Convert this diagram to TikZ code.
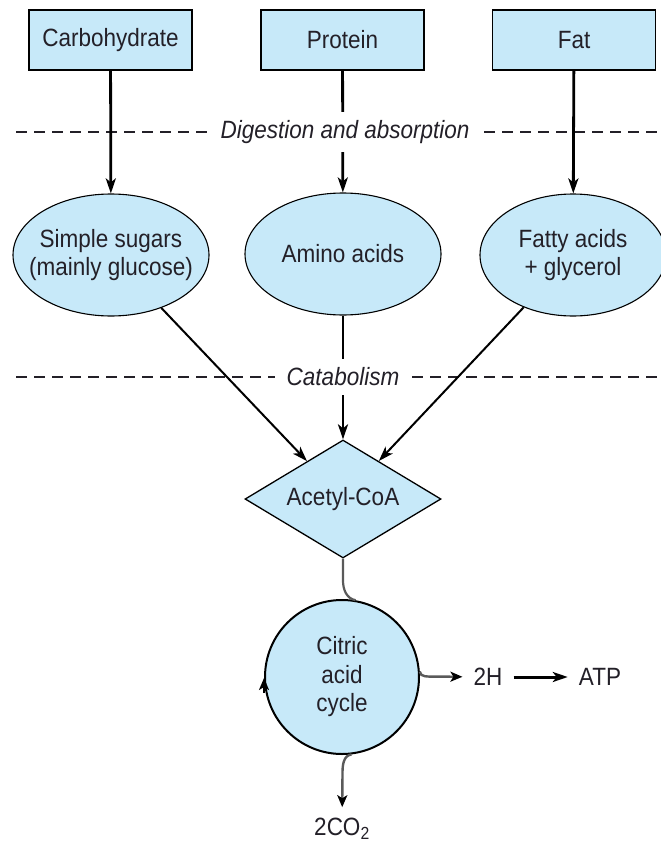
\documentclass[tikz,border=0pt]{standalone}
\usepackage{fontspec}
\setmainfont{Liberation Sans}[FakeStretch=0.9]
\usetikzlibrary{shapes.geometric,arrows.meta}

\definecolor{paleblue}{RGB}{199,233,249}
\definecolor{ink}{RGB}{35,32,40}
\definecolor{pipe}{RGB}{90,90,90}
\newcommand\figfont{\fontsize{25}{27.5}\selectfont}

\tikzset{
  food/.style={draw, line width=1.8pt, fill=paleblue, minimum width=163pt, minimum height=60pt, inner sep=0pt, text=ink, font=\figfont},
  pool/.style={ellipse, draw, line width=1.1pt, fill=paleblue, minimum width=196pt, minimum height=122pt, inner xsep=-25pt, inner ysep=0pt, align=center, text=ink, font=\figfont},
  hub/.style={diamond, draw, line width=1.3pt, fill=paleblue, minimum width=196pt, minimum height=118pt, aspect=1.66, inner sep=0pt, text=ink, font=\figfont},
  krebs/.style={circle, draw, line width=2pt, fill=paleblue, minimum size=154pt, inner sep=0pt, align=center, text=ink, font=\fontsize{25}{28.5}\selectfont},
  stage/.style={fill=white, inner xsep=12pt, inner ysep=8.5pt, text=ink, font=\figfont\itshape},
  product/.style={inner sep=11pt, text=ink, font=\figfont},
  divider/.style={ink, line width=1.8pt, dash pattern=on 11pt off 7pt},
  flow/.style={line width=2.8pt, -{Stealth[length=15pt,width=10pt,inset=4pt]}},
  feed/.style={line width=2pt, -{Stealth[length=15pt,width=10pt,inset=4pt]}},
  exit/.style={pipe, line width=2.4pt, -{Stealth[length=12pt,width=10pt,inset=3pt,color=black]}},
}

\begin{document}
\begin{tikzpicture}[x=1pt, y=1pt]
    \fill[white] (0,0) rectangle (661,-843);
    \useasboundingbox (0,0) rectangle (661,-843);

    % dashed stage lines
    \coordinate (dig-w) at (16,-132);
    \coordinate (dig-e) at (661,-132);
    \coordinate (cat-w) at (16,-377);
    \coordinate (cat-e) at (661,-377);
    \draw[divider] (dig-w) -- (dig-e);
    \draw[divider] (cat-w) -- (cat-e);

    % food groups
    \foreach \name/\x/\txt in {carb/110.5/Carbohydrate, prot/342.5/Protein, fat/574/Fat}{
        \node[food] (\name) at (\x,-40) {\txt};
    }

    % absorbed molecules
    \node[pool] (sugars) at (111,-255) {Simple sugars\\(mainly glucose)};
    \node[pool] (amino) at (343,-254) {Amino acids};
    \node[pool, minimum width=186pt] (fatty) at (573,-255) {Fatty acids\\+ glycerol};

    \node[hub] (acetyl) at (343,-499) {Acetyl-CoA};
    \node[krebs] (cyc) at (342,-677) {Citric\\acid\\cycle};

    \node[product] (h2) at (488,-677) {2H};
    \node[product] (atp) at (600,-677) {ATP};
    \node[product] (co2) at (342,-829) {2CO\textsubscript{2}};

    % digestion and catabolism arrows
    \foreach \a/\b in {carb/sugars, prot/amino, fat/fatty, amino/acetyl}{
        \draw[flow] (\a) -- (\b);
    }
    \draw[feed] (sugars) -- (acetyl);
    \draw[feed] (fatty) -- (acetyl);

    % into and out of the cycle
    \draw[pipe, line width=2.2pt] (acetyl.south) -- ++(0,-22) to[out=-90, in=170] (cyc.80);
    \draw[exit] (cyc.4) to[out=-86, in=180] ++(14,-5) -- (h2);
    \draw[exit] (cyc.-83) to[out=187, in=90] ++(-9,-18) -- (co2);
    \draw[line width=2pt, -{Stealth[length=12pt,width=10pt,inset=3pt]}] ([yshift=-16pt]cyc.west) -- ([yshift=-1pt]cyc.west);
    \draw[flow, line width=3pt] (h2) -- (atp);

    % stage labels cut the lines
    \node[stage] (digest) at (345,-132) {Digestion and absorption};
    \node[stage] (catab) at (343,-377) {Catabolism};
\end{tikzpicture}
\end{document}
